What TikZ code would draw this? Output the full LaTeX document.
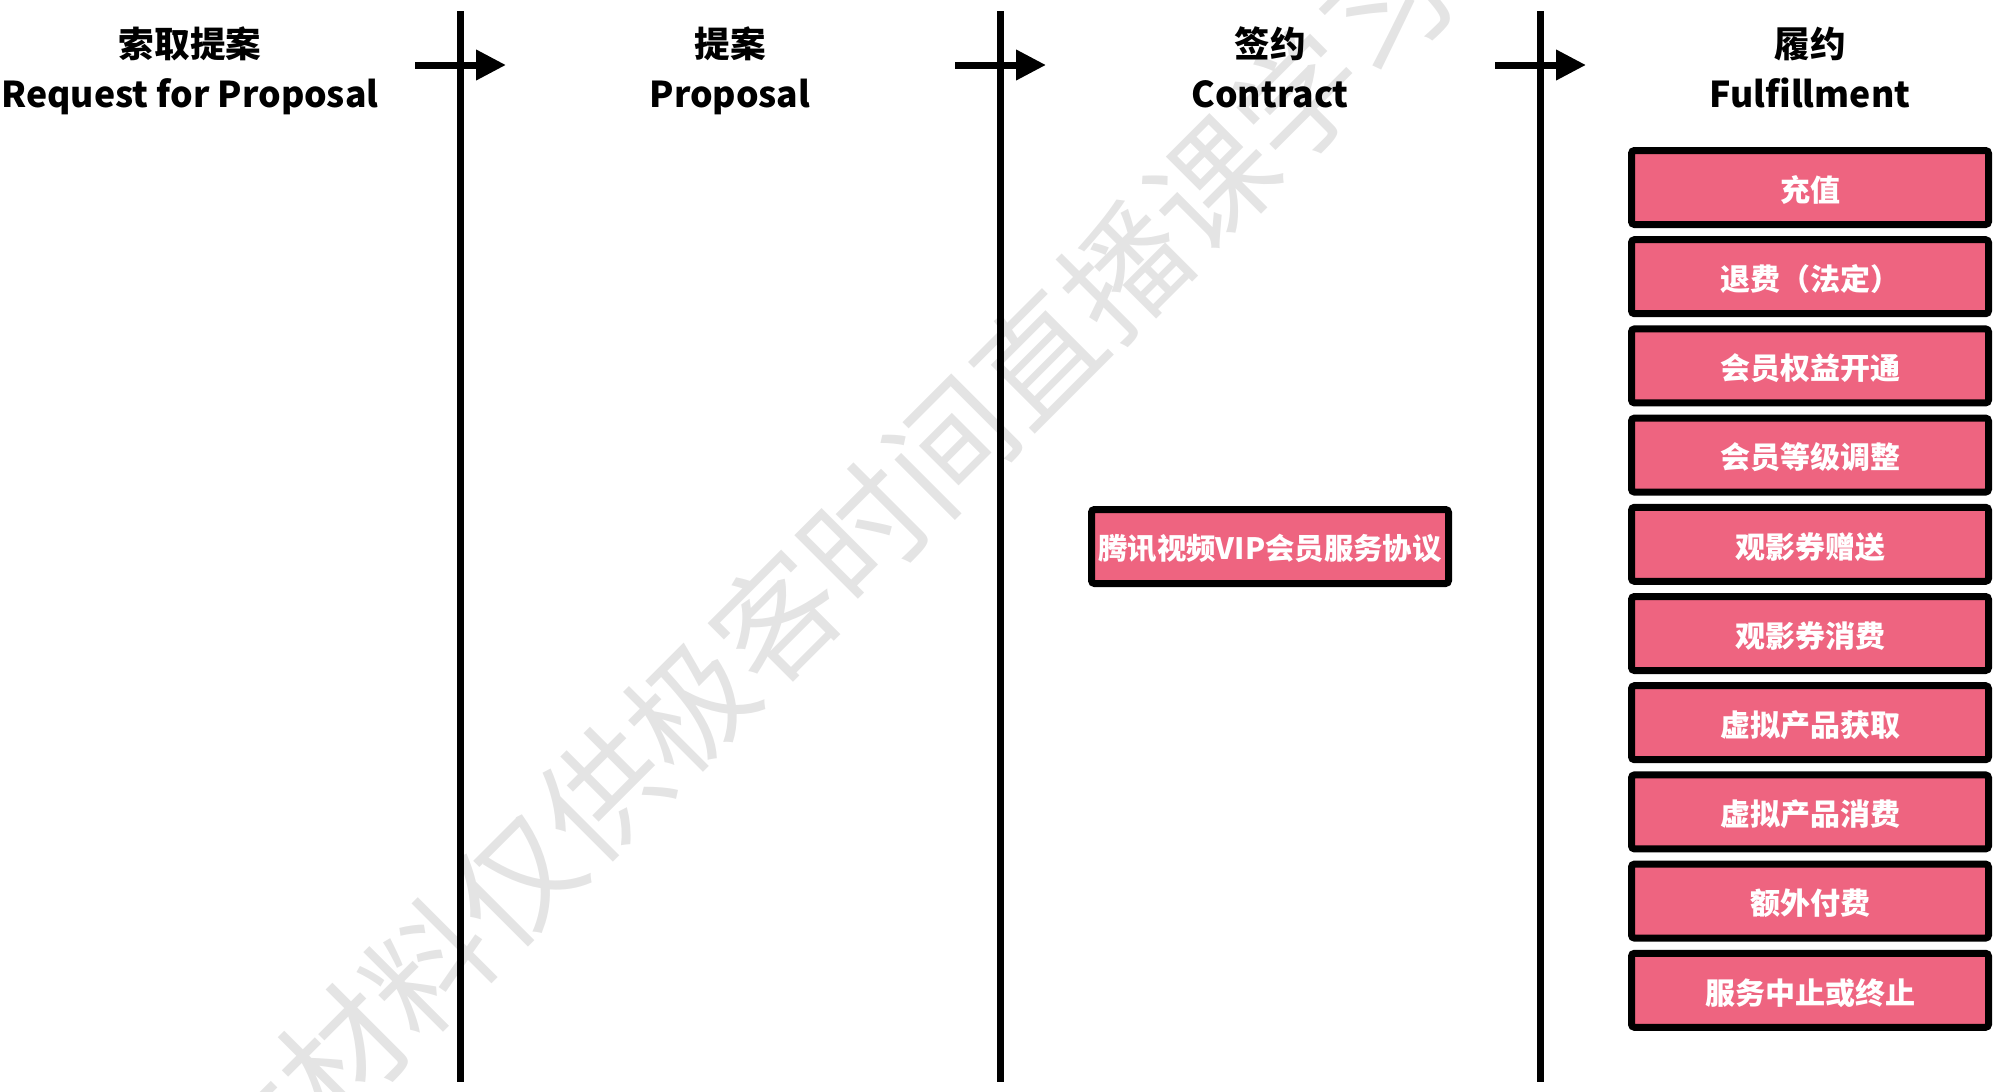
\documentclass[tikz,border=0pt]{standalone}
\usepackage{fontspec}
\setmainfont{Noto Sans CJK SC}
\usetikzlibrary{arrows.meta}
\definecolor{boxpink}{HTML}{EE6480}
\definecolor{wmgray}{HTML}{E4E4E4}
\newcommand{\lowertext}[1]{\raisebox{-1.2pt}[\height][\depth]{#1}}
\begin{document}
\begin{tikzpicture}[x=0.5pt,y=-0.5pt,
  lane/.style={line width=3.5pt},
  flow/.style={line width=3.5pt,-{Triangle[length=15pt,width=14.5pt]}},
  hdr/.style={font=\fontsize{17.8pt}{22pt}\selectfont\bfseries,inner sep=0pt},
  itembox/.style={draw=black,line width=3.5pt,fill=boxpink,rounded corners=1.5pt,
    minimum width=178.5pt,minimum height=37pt,inner sep=0pt,text=white,
    font=\fontsize{15pt}{18pt}\selectfont\bfseries},
  watermark/.style={rotate=45,text=wmgray,inner sep=0pt,
    font=\fontsize{61.5pt}{70pt}\selectfont}
]
\useasboundingbox (0,0) rectangle (2014,1092);
\begin{scope}
  \clip (0,0) rectangle (2014,1092);
  \node[watermark] (wm) at (820,575) {本材料仅供极客时间直播课学习};
\end{scope}
% lanes
\coordinate (l1t) at (460.5,11);  \coordinate (l1b) at (460.5,1082);
\coordinate (l2t) at (1000.5,11); \coordinate (l2b) at (1000.5,1082);
\coordinate (l3t) at (1540.5,11); \coordinate (l3b) at (1540.5,1082);
\draw[lane] (l1t) -- (l1b);
\draw[lane] (l2t) -- (l2b);
\draw[lane] (l3t) -- (l3b);
% arrows
\coordinate (a1s) at (415,65);  \coordinate (a1e) at (506,65);
\coordinate (a2s) at (955,65);  \coordinate (a2e) at (1046,65);
\coordinate (a3s) at (1495,65); \coordinate (a3e) at (1586,65);
\draw[flow] (a1s) -- (a1e);
\draw[flow] (a2s) -- (a2e);
\draw[flow] (a3s) -- (a3e);
% headers
\node[hdr] (h1a) at (190,44) {索取提案};
\node[hdr,anchor=base] (h1b) at (190,107) {Request for Proposal};
\node[hdr] (h2a) at (730,44) {提案};
\node[hdr,anchor=base] (h2b) at (730,107) {Proposal};
\node[hdr] (h3a) at (1270,44) {签约};
\node[hdr,anchor=base] (h3b) at (1270,107) {Contract};
\node[hdr] (h4a) at (1810,44) {履约};
\node[hdr,anchor=base] (h4b) at (1810,107) {Fulfillment};
% contract
\node[itembox,font=\fontsize{14.7pt}{17pt}\selectfont\bfseries] (c1) at (1270,546.5) {\lowertext{腾讯视频VIP会员服务协议}};
% fulfillment items
\foreach \i/\t in {0/充值,1/退费（法定）,2/会员权益开通,3/会员等级调整,4/观影券赠送,5/观影券消费,6/虚拟产品获取,7/虚拟产品消费,8/额外付费,9/服务中止或终止}{
  \node[itembox] (f\i) at (1810,{187.5+89.2*\i}) {\lowertext{\t}};
}
\end{tikzpicture}
\end{document}
